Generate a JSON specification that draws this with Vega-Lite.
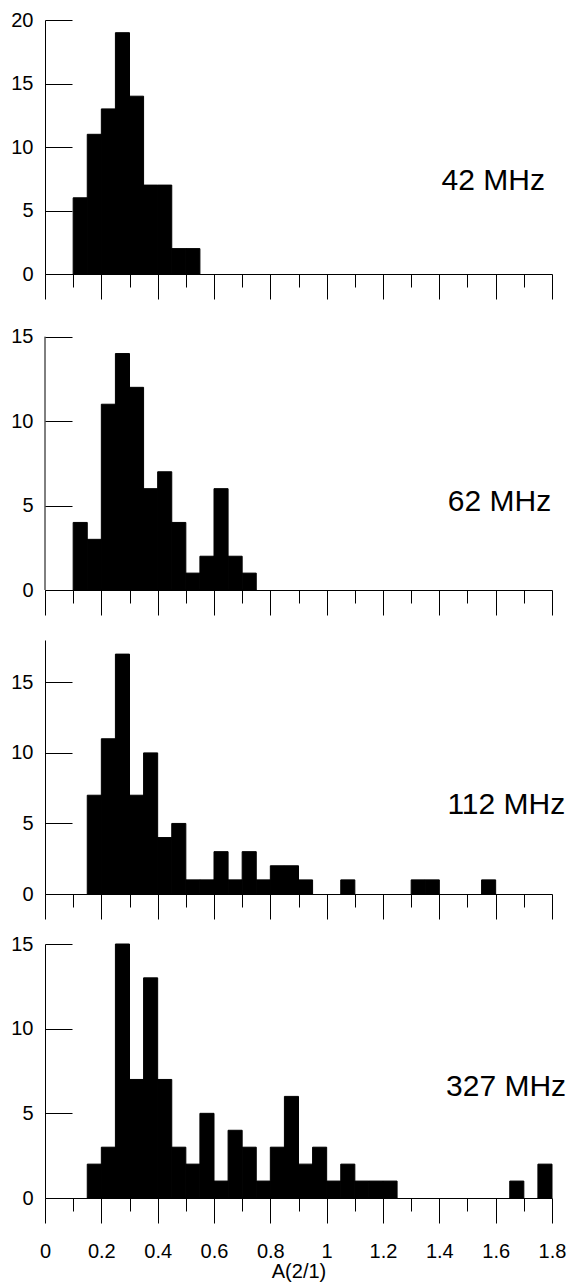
{
  "$schema": "https://vega.github.io/schema/vega-lite/v6.json",
  "autosize": {"type": "pad"},
  "padding": {"left": 10, "top": 10, "right": 5, "bottom": 2},
  "background": "white",
  "bounds": "flush",
  "spacing": 50,
  "config": {
    "font": "Liberation Sans",
    "view": {"stroke": null},
    "axis": {
      "domainColor": "black", "domainWidth": 1, "tickColor": "black", "tickWidth": 1,
      "labelColor": "black", "labelFont": "Liberation Sans", "labelFontSize": 20,
      "titleColor": "black", "titleFont": "Liberation Sans", "titleFontSize": 20, "titleFontWeight": "normal",
      "grid": false, "labelFlush": false, "labelOverlap": false
    }
  },
  "datasets": {
    "f42": [
      {"lo": 0.10, "hi": 0.15, "n": 6}, {"lo": 0.15, "hi": 0.20, "n": 11}, {"lo": 0.20, "hi": 0.25, "n": 13},
      {"lo": 0.25, "hi": 0.30, "n": 19}, {"lo": 0.30, "hi": 0.35, "n": 14}, {"lo": 0.35, "hi": 0.40, "n": 7},
      {"lo": 0.40, "hi": 0.45, "n": 7}, {"lo": 0.45, "hi": 0.50, "n": 2}, {"lo": 0.50, "hi": 0.55, "n": 2}
    ],
    "f62": [
      {"lo": 0.10, "hi": 0.15, "n": 4}, {"lo": 0.15, "hi": 0.20, "n": 3}, {"lo": 0.20, "hi": 0.25, "n": 11},
      {"lo": 0.25, "hi": 0.30, "n": 14}, {"lo": 0.30, "hi": 0.35, "n": 12}, {"lo": 0.35, "hi": 0.40, "n": 6},
      {"lo": 0.40, "hi": 0.45, "n": 7}, {"lo": 0.45, "hi": 0.50, "n": 4}, {"lo": 0.50, "hi": 0.55, "n": 1},
      {"lo": 0.55, "hi": 0.60, "n": 2}, {"lo": 0.60, "hi": 0.65, "n": 6}, {"lo": 0.65, "hi": 0.70, "n": 2},
      {"lo": 0.70, "hi": 0.75, "n": 1}
    ],
    "f112": [
      {"lo": 0.15, "hi": 0.20, "n": 7}, {"lo": 0.20, "hi": 0.25, "n": 11}, {"lo": 0.25, "hi": 0.30, "n": 17},
      {"lo": 0.30, "hi": 0.35, "n": 7}, {"lo": 0.35, "hi": 0.40, "n": 10}, {"lo": 0.40, "hi": 0.45, "n": 4},
      {"lo": 0.45, "hi": 0.50, "n": 5}, {"lo": 0.50, "hi": 0.55, "n": 1}, {"lo": 0.55, "hi": 0.60, "n": 1},
      {"lo": 0.60, "hi": 0.65, "n": 3}, {"lo": 0.65, "hi": 0.70, "n": 1}, {"lo": 0.70, "hi": 0.75, "n": 3},
      {"lo": 0.75, "hi": 0.80, "n": 1}, {"lo": 0.80, "hi": 0.85, "n": 2}, {"lo": 0.85, "hi": 0.90, "n": 2},
      {"lo": 0.90, "hi": 0.95, "n": 1}, {"lo": 1.05, "hi": 1.10, "n": 1}, {"lo": 1.30, "hi": 1.35, "n": 1},
      {"lo": 1.35, "hi": 1.40, "n": 1}, {"lo": 1.55, "hi": 1.60, "n": 1}
    ],
    "f327": [
      {"lo": 0.15, "hi": 0.20, "n": 2}, {"lo": 0.20, "hi": 0.25, "n": 3}, {"lo": 0.25, "hi": 0.30, "n": 15},
      {"lo": 0.30, "hi": 0.35, "n": 7}, {"lo": 0.35, "hi": 0.40, "n": 13}, {"lo": 0.40, "hi": 0.45, "n": 7},
      {"lo": 0.45, "hi": 0.50, "n": 3}, {"lo": 0.50, "hi": 0.55, "n": 2}, {"lo": 0.55, "hi": 0.60, "n": 5},
      {"lo": 0.60, "hi": 0.65, "n": 1}, {"lo": 0.65, "hi": 0.70, "n": 4}, {"lo": 0.70, "hi": 0.75, "n": 3},
      {"lo": 0.75, "hi": 0.80, "n": 1}, {"lo": 0.80, "hi": 0.85, "n": 3}, {"lo": 0.85, "hi": 0.90, "n": 6},
      {"lo": 0.90, "hi": 0.95, "n": 2}, {"lo": 0.95, "hi": 1.00, "n": 3}, {"lo": 1.00, "hi": 1.05, "n": 1},
      {"lo": 1.05, "hi": 1.10, "n": 2}, {"lo": 1.10, "hi": 1.15, "n": 1}, {"lo": 1.15, "hi": 1.20, "n": 1},
      {"lo": 1.20, "hi": 1.25, "n": 1}, {"lo": 1.65, "hi": 1.70, "n": 1}, {"lo": 1.75, "hi": 1.80, "n": 2}
    ]
  },
  "vconcat": [
    {
      "width": 507, "height": 254,
      "resolve": {"axis": {"x": "independent"}},
      "layer": [
        {
          "data": {"name": "f42"},
          "mark": {"type": "bar", "color": "black", "stroke": "black", "strokeWidth": 1},
          "encoding": {
            "x": {"field": "lo", "type": "quantitative", "scale": {"domain": [0, 1.8], "nice": false, "zero": false},
                  "axis": {"orient": "bottom", "values": [0, 0.2, 0.4, 0.6, 0.8, 1, 1.2, 1.4, 1.6, 1.8], "tickSize": 25, "labels": false, "title": null}},
            "x2": {"field": "hi"},
            "y": {"field": "n", "type": "quantitative", "scale": {"domain": [0, 20], "nice": false},
                  "axis": {"values": [0, 5, 10, 15, 20], "tickSize": -27, "labelPadding": 39, "title": null, "format": "~g"}},
            "y2": {"datum": 0}
          }
        },
        {
          "data": {"values": [{"label": "42 MHz"}]},
          "mark": {"type": "text", "align": "right", "baseline": "alphabetic", "fontSize": 30, "font": "Liberation Sans", "color": "black"},
          "encoding": {
            "text": {"field": "label"},
            "x": {"datum": 1.775, "type": "quantitative",
                  "axis": {"orient": "bottom", "values": [0.1, 0.3, 0.5, 0.7, 0.9, 1.1, 1.3, 1.5, 1.7], "tickSize": 13, "labels": false, "domain": false, "title": null}},
            "y": {"datum": 6.62, "type": "quantitative"}
          }
        }
      ]
    },
    {
      "width": 507, "height": 266,
      "resolve": {"axis": {"x": "independent"}},
      "layer": [
        {
          "data": {"name": "f62"},
          "mark": {"type": "bar", "color": "black", "stroke": "black", "strokeWidth": 1},
          "encoding": {
            "x": {"field": "lo", "type": "quantitative", "scale": {"domain": [0, 1.8], "nice": false, "zero": false},
                  "axis": {"orient": "bottom", "values": [0, 0.2, 0.4, 0.6, 0.8, 1, 1.2, 1.4, 1.6, 1.8], "tickSize": 25, "labels": false, "title": null}},
            "x2": {"field": "hi"},
            "y": {"field": "n", "type": "quantitative", "scale": {"domain": [0, 15.75], "nice": false},
                  "axis": {"values": [0, 5, 10, 15], "tickSize": -27, "labelPadding": 39, "title": null, "domain": false, "format": "~g"}},
            "y2": {"datum": 0}
          }
        },
        {
          "data": {"values": [{}]},
          "mark": {"type": "rule", "color": "black", "strokeWidth": 1},
          "encoding": {
            "x": {"datum": 0, "type": "quantitative", "axis": null},
            "y": {"datum": 0, "type": "quantitative"},
            "y2": {"datum": 15}
          }
        },
        {
          "data": {"values": [{"label": "62 MHz"}]},
          "mark": {"type": "text", "align": "right", "baseline": "alphabetic", "fontSize": 30, "font": "Liberation Sans", "color": "black"},
          "encoding": {
            "text": {"field": "label"},
            "x": {"datum": 1.797, "type": "quantitative",
                  "axis": {"orient": "bottom", "values": [0.1, 0.3, 0.5, 0.7, 0.9, 1.1, 1.3, 1.5, 1.7], "tickSize": 13, "labels": false, "domain": false, "title": null}},
            "y": {"datum": 4.7, "type": "quantitative"}
          }
        }
      ]
    },
    {
      "width": 507, "height": 254,
      "resolve": {"axis": {"x": "independent"}},
      "layer": [
        {
          "data": {"name": "f112"},
          "mark": {"type": "bar", "color": "black", "stroke": "black", "strokeWidth": 1},
          "encoding": {
            "x": {"field": "lo", "type": "quantitative", "scale": {"domain": [0, 1.8], "nice": false, "zero": false},
                  "axis": {"orient": "bottom", "values": [0, 0.2, 0.4, 0.6, 0.8, 1, 1.2, 1.4, 1.6, 1.8], "tickSize": 25, "labels": false, "title": null}},
            "x2": {"field": "hi"},
            "y": {"field": "n", "type": "quantitative", "scale": {"domain": [0, 18], "nice": false},
                  "axis": {"values": [0, 5, 10, 15], "tickSize": -27, "labelPadding": 39, "title": null, "format": "~g"}},
            "y2": {"datum": 0}
          }
        },
        {
          "data": {"values": [{"label": "112 MHz"}]},
          "mark": {"type": "text", "align": "right", "baseline": "alphabetic", "fontSize": 30, "font": "Liberation Sans", "color": "black"},
          "encoding": {
            "text": {"field": "label"},
            "x": {"datum": 1.847, "type": "quantitative",
                  "axis": {"orient": "bottom", "values": [0.1, 0.3, 0.5, 0.7, 0.9, 1.1, 1.3, 1.5, 1.7], "tickSize": 13, "labels": false, "domain": false, "title": null}},
            "y": {"datum": 5.69, "type": "quantitative"}
          }
        }
      ]
    },
    {
      "width": 507, "height": 254,
      "resolve": {"axis": {"x": "independent"}},
      "layer": [
        {
          "data": {"name": "f327"},
          "mark": {"type": "bar", "color": "black", "stroke": "black", "strokeWidth": 1},
          "encoding": {
            "x": {"field": "lo", "type": "quantitative", "scale": {"domain": [0, 1.8], "nice": false, "zero": false},
                  "axis": {"orient": "bottom", "values": [0, 0.2, 0.4, 0.6, 0.8, 1, 1.2, 1.4, 1.6, 1.8], "tickSize": 25, "labels": true, "labelPadding": 18, "format": "~g", "title": "A(2/1)", "titlePadding": 0}},
            "x2": {"field": "hi"},
            "y": {"field": "n", "type": "quantitative", "scale": {"domain": [0, 15], "nice": false},
                  "axis": {"values": [0, 5, 10, 15], "tickSize": -27, "labelPadding": 39, "title": null, "format": "~g"}},
            "y2": {"datum": 0}
          }
        },
        {
          "data": {"values": [{"label": "327 MHz"}]},
          "mark": {"type": "text", "align": "right", "baseline": "alphabetic", "fontSize": 30, "font": "Liberation Sans", "color": "black"},
          "encoding": {
            "text": {"field": "label"},
            "x": {"datum": 1.85, "type": "quantitative",
                  "axis": {"orient": "bottom", "values": [0.1, 0.3, 0.5, 0.7, 0.9, 1.1, 1.3, 1.5, 1.7], "tickSize": 13, "labels": false, "domain": false, "title": null}},
            "y": {"datum": 6.02, "type": "quantitative"}
          }
        }
      ]
    }
  ]
}
